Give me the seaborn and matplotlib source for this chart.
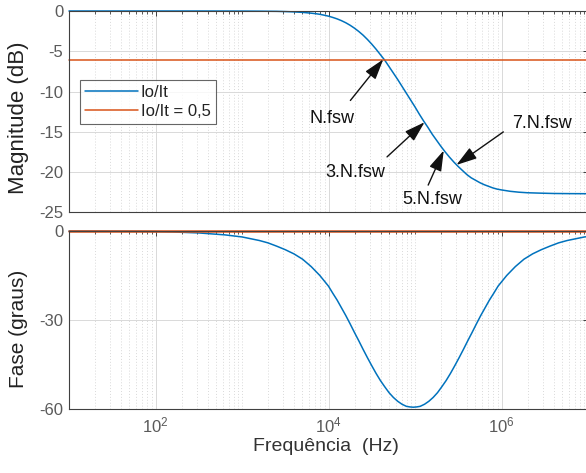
import numpy as np
import pandas as pd
import matplotlib
matplotlib.use("Agg")
import matplotlib.pyplot as plt
import seaborn as sns
from matplotlib.ticker import FixedLocator, LogLocator, LogFormatterSciNotation, NullFormatter

# ---------------- data ----------------
# frequencies are given as log10(Hz) as read on the logarithmic axis
mag_freq_exp = [1.0, 2.0, 2.5, 3.0, 3.2, 3.4, 3.5, 3.6, 3.7, 3.8, 3.85, 3.9, 3.95,
                4.0, 4.05, 4.1, 4.15, 4.2, 4.25, 4.3, 4.35, 4.4, 4.45, 4.5, 4.55,
                4.6, 4.65, 4.7, 4.75, 4.8, 4.85, 4.9, 4.95, 5.0, 5.05, 5.1, 5.15,
                5.2, 5.25, 5.3, 5.35, 5.4, 5.45, 5.5, 5.55, 5.6, 5.65, 5.7, 5.75,
                5.8, 5.85, 5.9, 5.95, 6.0, 6.1, 6.2, 6.3, 6.45, 6.6, 6.8, 7.0]
mag_db = [0.0, 0.0, 0.0, -0.01, -0.02, -0.04, -0.07, -0.11, -0.17, -0.27, -0.33, -0.41, -0.52,
          -0.64, -0.80, -0.98, -1.20, -1.46, -1.77, -2.13, -2.54, -3.0, -3.53, -4.11, -4.74,
          -5.42, -6.1, -6.9, -7.7, -8.5, -9.35, -10.2, -11.05, -11.9, -12.8, -13.65, -14.45,
          -15.3, -16.05, -16.8, -17.5, -18.15, -18.75, -19.3, -19.8, -20.3, -20.7, -21.0, -21.3,
          -21.55, -21.75, -21.95, -22.1, -22.2, -22.37, -22.48, -22.55, -22.6, -22.64, -22.66, -22.67]

phase_freq_exp = [1.00, 1.40, 1.80, 2.00, 2.20, 2.50, 2.80, 3.00, 3.20, 3.30, 3.40, 3.50,
                  3.60, 3.70, 3.80, 3.90, 3.95, 4.00, 4.05, 4.10, 4.15, 4.20, 4.25, 4.30,
                  4.35, 4.40, 4.45, 4.50, 4.55, 4.60, 4.65, 4.70, 4.75, 4.80, 4.85, 4.90,
                  4.94, 4.98,
                  5.02, 5.06, 5.11, 5.16, 5.21, 5.26, 5.31, 5.36, 5.41, 5.46, 5.51, 5.56,
                  5.61, 5.66, 5.71, 5.76, 5.81, 5.86, 5.91, 5.96, 6.01, 6.06, 6.16, 6.26,
                  6.36, 6.46, 6.56, 6.66, 6.76, 6.96, 7.00]
phase_deg = [-0.02, -0.05, -0.13, -0.2, -0.33, -0.65, -1.3, -2.0, -3.2, -4.0, -5.1, -6.3,
             -7.7, -9.5, -12.0, -15.0, -16.8, -18.6, -21.0, -23.3, -25.9, -28.5, -31.3, -34.2,
             -37.0, -39.9, -42.7, -45.4, -48.0, -50.4, -52.5, -54.5, -56.1, -57.4, -58.4, -59.1,
             -59.3, -59.4,
             -59.3, -59.1, -58.4, -57.4, -56.1, -54.5, -52.5, -50.4, -48.0, -45.4, -42.7, -39.9,
             -37.0, -34.2, -31.3, -28.5, -25.9, -23.3, -21.0, -18.6, -16.8, -15.0, -12.0, -9.5,
             -7.7, -6.3, -5.1, -4.0, -3.2, -2.0, -1.9]

ref_freq = [10, 10000000]
ref_mag = [-6.02, -6.02]
ref_phase = [0.0, 0.0]

series_labels = ["Io/It", "Io/It = 0,5"]
mag_ticks = [0, -5, -10, -15, -20, -25]
phase_ticks = [0, -30, -60]
freq_major = [1e2, 1e4, 1e6]

ann_labels = ["N.fsw", "3.N.fsw", "5.N.fsw", "7.N.fsw"]
ann_tip_freq = [43000, 129000, 215000, 301000]
ann_tip_db = [-6.0, -13.8, -17.3, -19.1]
ann_tail_freq = [17900, 47500, 142000, 1050000]
ann_tail_db = [-11.1, -18.1, -21.6, -15.0]
ann_text_freq = [11000, 20400, 158000, 2940000]
ann_text_db = [-13.3, -20.0, -23.4, -13.9]

# ---------------- style ----------------
sns.set_theme(style="white")
plt.rcParams["font.family"] = ["Liberation Sans", "DejaVu Sans"]
plt.rcParams["mathtext.fontset"] = "custom"
plt.rcParams["mathtext.rm"] = "Liberation Sans"
plt.rcParams["mathtext.it"] = "Liberation Sans:italic"
plt.rcParams["axes.unicode_minus"] = False

BLUE = "#0072BD"
RED = "#D95319"
SPINE = "#404040"
TICKLAB = "#5a5a5a"
GRID = "#d9d9d9"

fig = plt.figure(figsize=(5.86, 4.73), dpi=100)
W, H = 586, 473
left_px, right_px = 69, 588
ax1 = fig.add_axes([left_px / W, 1 - 212.5 / H, (right_px - left_px) / W, (212.5 - 11) / H])
ax2 = fig.add_axes([left_px / W, 1 - 409 / H, (right_px - left_px) / W, (409 - 231) / H], sharex=ax1)

df_mag = pd.DataFrame({"f": 10.0 ** np.array(mag_freq_exp), "v": mag_db})
df_ref_mag = pd.DataFrame({"f": ref_freq, "v": ref_mag})
df_ph = pd.DataFrame({"f": 10.0 ** np.array(phase_freq_exp), "v": phase_deg})
df_ref_ph = pd.DataFrame({"f": ref_freq, "v": ref_phase})

sns.lineplot(data=df_mag, x="f", y="v", ax=ax1, color=BLUE, lw=1.1, label=series_labels[0])
sns.lineplot(data=df_ref_mag, x="f", y="v", ax=ax1, color=RED, lw=1.1, label=series_labels[1])
sns.lineplot(data=df_ph, x="f", y="v", ax=ax2, color=BLUE, lw=1.1, legend=False)
sns.lineplot(data=df_ref_ph, x="f", y="v", ax=ax2, color=RED, lw=1.8, legend=False)

for ax in (ax1, ax2):
    ax.set_xscale("log")
    ax.set_xlim(10, 1e7)
    for ln in ax.get_lines():
        ln.set_clip_on(False)
    ax.xaxis.set_major_locator(FixedLocator(freq_major))
    ax.xaxis.set_minor_locator(LogLocator(base=10, subs=np.arange(1, 10)))
    ax.xaxis.set_minor_formatter(NullFormatter())
    ax.grid(True, which="major", color=GRID, lw=0.7, ls="-")
    ax.grid(True, which="minor", axis="x", color=GRID, lw=0.7, ls=(0, (1, 2)))
    ax.set_axisbelow(True)
    for s in ax.spines.values():
        s.set_color(SPINE)
        s.set_linewidth(0.8)
        s.set_visible(True)
    ax.tick_params(which="both", direction="in", top=True, right=True, colors=SPINE,
                   labelcolor=TICKLAB, labelsize=12)
    ax.tick_params(which="major", length=3.8, width=0.7)
    ax.tick_params(which="minor", length=2.2, width=0.6)
    ax.tick_params(axis="x", pad=5)
    ax.tick_params(axis="y", pad=4)
    ax.set_xlabel("")
    ax.set_ylabel("")

ax1.set_ylim(-25, 0)
ax1.set_yticks(mag_ticks)
ax1.tick_params(axis="x", labelbottom=False)
ax2.set_ylim(-60, 0)
ax2.set_yticks(phase_ticks)
ax2.xaxis.set_major_formatter(LogFormatterSciNotation())

ax1.set_ylabel("Magnitude (dB)", fontsize=16, color="#222222")
ax1.yaxis.set_label_coords(-0.077, 0.47)
ax2.set_ylabel("Fase (graus)", fontsize=15, color="#222222")
ax2.yaxis.set_label_coords(-0.079, 0.45)
ax2.set_xlabel("Frequência  (Hz)", fontsize=14, color="#333333")
ax2.xaxis.set_label_coords(0.495, -0.165)

leg = ax1.legend(loc="upper left", bbox_to_anchor=(0.021, 0.658), borderaxespad=0,
                 fontsize=12, frameon=True, fancybox=False, handlelength=3.2,
                 handletextpad=0.15, labelspacing=0.25, borderpad=0.3)
leg.get_frame().set_edgecolor(SPINE)
leg.get_frame().set_linewidth(0.8)
for t in leg.get_texts():
    t.set_color("#222222")

for lab, tf, td, af, ad, xf, xd in zip(ann_labels, ann_tip_freq, ann_tip_db,
                                       ann_tail_freq, ann_tail_db, ann_text_freq, ann_text_db):
    ax1.annotate("", xy=(tf, td), xytext=(af, ad),
                 arrowprops=dict(arrowstyle="-|>,head_length=0.9,head_width=0.28",
                                 mutation_scale=14, color="#111111", lw=1.0,
                                 shrinkA=0, shrinkB=0))
    ax1.text(xf, xd, lab, fontsize=13, color="#111111", ha="center", va="center")

fig.savefig("out.png", dpi=100)
